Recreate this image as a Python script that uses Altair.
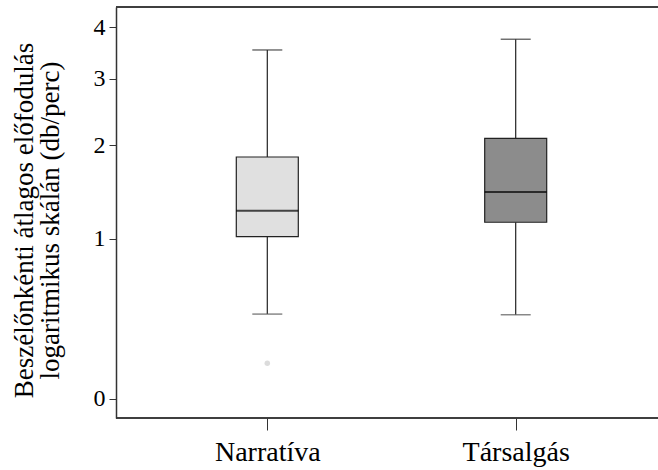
import altair as alt
import pandas as pd

categories = ["Narratíva", "Társalgás"]
lower = [0.443, 0.439]
q1 = [1.018, 1.148]
median = [1.258, 1.449]
q3 = [1.850, 2.090]
upper = [3.531, 3.746]
fills = ["#e0e0e0", "#8c8c8c"]
outlier_cat = ["Narratíva"]
outlier_val = [0.166]
y_ticks = [0, 1, 2, 3, 4]

df = pd.DataFrame({"cat": categories, "lower": lower, "q1": q1, "median": median,
                   "q3": q3, "upper": upper, "fill": fills})
out = pd.DataFrame({"cat": outlier_cat, "val": outlier_val})

W, H = 542, 411
FONT = "Liberation Serif"

xs = alt.Scale(type="point", domain=categories, range=[151.3, 399.7], padding=0)
ys = alt.Scale(type="symlog", constant=1, domain=[-0.087, 4.458], nice=False, zero=False)

x_enc = alt.X("cat:N", scale=xs, sort=categories,
              axis=alt.Axis(title=None, labelFont=FONT, labelFontSize=28, labelColor="#000",
                            labelAngle=0, tickSize=12, tickColor="#333", domain=False,
                            labelPadding=8, labelBaseline="top"))
y_axis = alt.Axis(values=y_ticks, format="d", title=["Beszélőnkénti átlagos előfodulás",
                                                     "logaritmikus skálán (db/perc)"],
                  titleFont=FONT, titleFontSize=27, titleFontWeight="normal", titleColor="#000",
                  titleAngle=-90, titleX=-105, titleY=213, titleAlign="center",
                  titleBaseline="top", titleLineHeight=26,
                  labelFont=FONT, labelFontSize=24, labelColor="#000", labelPadding=4,
                  tickSize=7, tickColor="#333", domainColor="#333", domainWidth=1.5, grid=False)

base = alt.Chart(df)

whisk_lo = base.mark_rule(color="#222", strokeWidth=1.2).encode(
    x=x_enc, y=alt.Y("lower:Q", scale=ys, axis=y_axis), y2="q1:Q")
whisk_hi = base.mark_rule(color="#222", strokeWidth=1.2).encode(
    x=alt.X("cat:N", scale=xs, sort=categories), y=alt.Y("q3:Q", scale=ys), y2="upper:Q")
box = base.mark_bar(size=62, stroke="#222", strokeWidth=1.2).encode(
    x=alt.X("cat:N", scale=xs, sort=categories), y=alt.Y("q1:Q", scale=ys), y2="q3:Q",
    fill=alt.Fill("fill:N", scale=None))
med = base.mark_tick(size=62, thickness=2, color="#000").encode(
    x=alt.X("cat:N", scale=xs, sort=categories), y=alt.Y("median:Q", scale=ys))
cap_lo = base.mark_tick(size=30, thickness=1.5, color="#555").encode(
    x=alt.X("cat:N", scale=xs, sort=categories), y=alt.Y("lower:Q", scale=ys))
cap_hi = base.mark_tick(size=30, thickness=1.5, color="#333").encode(
    x=alt.X("cat:N", scale=xs, sort=categories), y=alt.Y("upper:Q", scale=ys))
pts = alt.Chart(out).mark_circle(size=30, color="#dcdcdc", opacity=1).encode(
    x=alt.X("cat:N", scale=xs, sort=categories), y=alt.Y("val:Q", scale=ys))
top_border = alt.Chart(df).mark_rule(color="#333", strokeWidth=1.5).encode(
    x=alt.value(0), x2=alt.value(W), y=alt.value(0))
bottom_border = alt.Chart(df).mark_rule(color="#333", strokeWidth=1.5).encode(
    x=alt.value(0), x2=alt.value(W), y=alt.value(H))

chart = alt.layer(whisk_lo, whisk_hi, box, med, cap_lo, cap_hi, pts, top_border,
                  bottom_border).properties(
    width=W, height=H,
    padding={"left": 116, "top": 7, "right": 0, "bottom": 52},
    autosize=alt.AutoSizeParams(type="none"),
    background="white",
).configure_view(stroke=None)

chart.save("out.html", embed_options={"renderer": "svg", "actions": False})
